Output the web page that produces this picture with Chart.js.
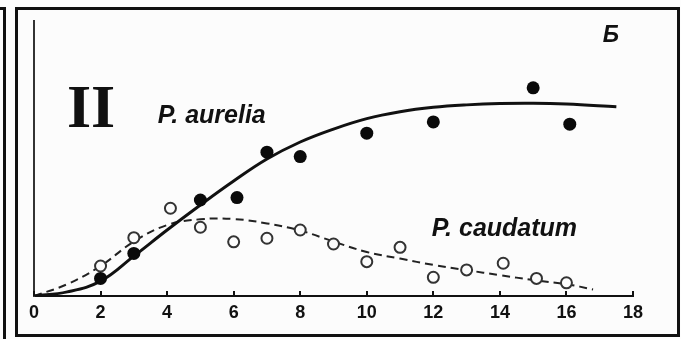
<!DOCTYPE html>
<html>
<head>
<meta charset="utf-8">
<script src="https://cdn.jsdelivr.net/npm/chart.js@4.4.1/dist/chart.umd.min.js"></script>
<style>
  html, body { margin: 0; padding: 0; background: #fdfdfd; }
  #wrap { position: relative; width: 681px; height: 339px; overflow: hidden; }
  .prev { position: absolute; left: -20px; top: 7px; width: 26px; height: 340px;
          border: 3px solid #111; box-sizing: border-box; }
  .frame { position: absolute; left: 15px; top: 7px; width: 665px; height: 330px;
           border: 3px solid #111; box-sizing: border-box; background: #fcfcfc; }
  canvas { position: absolute; left: 0; top: 0; }
</style>
</head>
<body>
<div id="wrap">
  <div class="prev"></div>
  <div class="frame"></div>
  <canvas id="chart" width="681" height="339"></canvas>
</div>
<script>
// x axis ticks (days)
const xTicks = [0, 2, 4, 6, 8, 10, 12, 14, 16, 18];

// P. aurelia observations (filled dots)
const aureliaX = [2, 3, 5, 6.1, 7, 8, 10, 12, 15, 16.1];
const aureliaY = [6.4, 15.5, 34.9, 35.8, 52.3, 50.7, 59.2, 63.3, 75.7, 62.5];

// P. caudatum observations (open circles)
const caudatumX = [2, 3, 4.1, 5, 6, 7, 8, 9, 10, 11, 12, 13, 14.1, 15.1, 16];
const caudatumY = [10.9, 21.2, 31.9, 25.0, 19.7, 21.0, 24.0, 18.9, 12.5, 17.7, 6.8, 9.5, 11.9, 6.4, 4.8];

// fitted curves
const aureliaCurveX = [0, 1, 2, 3, 4, 5, 6, 7, 8, 9, 10, 11, 12, 13, 14, 15, 16, 17.5];
const aureliaCurveY = [0, 1.5, 5.4, 14.5, 24, 33.1, 41.8, 49.8, 56, 60.7, 64.5, 67, 68.6, 69.5, 70, 70.1, 69.8, 68.8];

const caudatumCurveX = [0, 1, 2, 3, 4, 5, 6, 7, 8, 9, 10, 11, 12, 13, 14, 15, 16, 16.8];
const caudatumCurveY = [0, 4.3, 10.9, 19.8, 25.8, 27.9, 28, 26.4, 23.8, 19.8, 16, 13.6, 11.3, 9.4, 7.6, 5.8, 4.3, 2.4];

const pts = (xs, ys) => xs.map((x, i) => ({ x: x, y: ys[i] }));

// small upward tick marks + text labels placed in data units
const annotations = {
  id: 'annotations',
  afterDatasetsDraw(chart) {
    const { ctx, scales: { x, y } } = chart;
    ctx.save();
    ctx.strokeStyle = '#111';
    ctx.lineWidth = 2;
    xTicks.forEach(v => {
      const px = Math.round(x.getPixelForValue(v));
      ctx.beginPath();
      ctx.moveTo(px, y.getPixelForValue(0));
      ctx.lineTo(px, y.getPixelForValue(0) - 5);
      ctx.stroke();
    });

    ctx.fillStyle = '#111';
    ctx.textBaseline = 'alphabetic';
    ctx.font = 'bold 62px "Liberation Serif"';
    ctx.fillText('II', x.getPixelForValue(0.99), y.getPixelForValue(61.5));
    ctx.font = 'italic bold 25px "Liberation Sans"';
    ctx.fillText('P. aurelia', x.getPixelForValue(3.72), y.getPixelForValue(62.9));
    ctx.fillText('P. caudatum', x.getPixelForValue(11.95), y.getPixelForValue(21.8));
    ctx.font = 'italic bold 23px "Liberation Sans"';
    ctx.fillText('Б', x.getPixelForValue(17.09), y.getPixelForValue(92.4));
    ctx.restore();
  }
};

new Chart(document.getElementById('chart'), {
  type: 'scatter',
  data: {
    datasets: [
      {
        type: 'line',
        data: pts(aureliaCurveX, aureliaCurveY),
        borderColor: '#111',
        borderWidth: 3,
        pointRadius: 0,
        tension: 0.4,
        fill: false,
        order: 3,
      },
      {
        type: 'line',
        data: pts(caudatumCurveX, caudatumCurveY),
        borderColor: '#222',
        borderWidth: 2,
        borderDash: [8, 5],
        pointRadius: 0,
        tension: 0.4,
        fill: false,
        order: 4,
      },
      {
        data: pts(caudatumX, caudatumY),
        pointRadius: 5.5,
        pointBorderWidth: 2,
        pointBorderColor: '#333',
        pointBackgroundColor: '#fcfcfc',
        order: 2,
      },
      {
        data: pts(aureliaX, aureliaY),
        pointRadius: 6.5,
        pointBorderWidth: 0,
        pointBackgroundColor: '#0a0a0a',
        order: 1,
      },
    ],
  },
  options: {
    responsive: false,
    animation: false,
    layout: { padding: { left: 34, right: 48, top: 21, bottom: 0 } },
    plugins: { legend: { display: false }, tooltip: { enabled: false } },
    scales: {
      x: {
        type: 'linear',
        min: 0,
        max: 18,
        afterBuildTicks: (scale) => { scale.ticks = xTicks.map(v => ({ value: v })); },
        afterFit: (scale) => { scale.height = 43; },
        grid: { display: false, drawTicks: false },
        border: { display: true, color: '#111', width: 2 },
        ticks: {
          padding: 6,
          color: '#111',
          font: { family: '"Liberation Sans"', size: 18, weight: 'bold' },
          maxRotation: 0,
          autoSkip: false,
        },
      },
      y: {
        min: 0,
        max: 100,
        afterFit: (scale) => { scale.width = 0; },
        grid: { display: false, drawTicks: false },
        border: { display: true, color: '#333', width: 2 },
        ticks: { display: false },
      },
    },
  },
  plugins: [annotations],
});
</script>
</body>
</html>
